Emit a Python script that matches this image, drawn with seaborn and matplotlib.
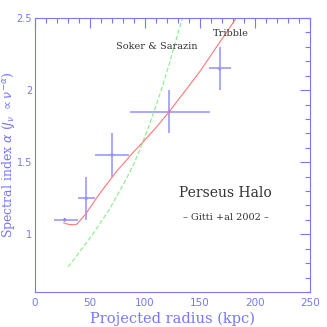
import numpy as np
import pandas as pd
import matplotlib
matplotlib.use('Agg')
import matplotlib.pyplot as plt
import seaborn as sns
from matplotlib.ticker import MultipleLocator

# measured spectral index points
radius = [27, 46.5, 70, 122, 168]
radius_lo = [17, 39, 54.5, 86, 158.5]
radius_hi = [39.5, 54.5, 85.5, 159, 178]
alpha = [1.10, 1.25, 1.55, 1.85, 2.15]
alpha_lo = [1.10, 1.10, 1.40, 1.70, 2.00]
alpha_hi = [1.10, 1.40, 1.70, 2.00, 2.30]

# model curves
soker_r = [30, 37, 44, 52, 59, 67, 74, 82, 90, 97, 104, 110, 116, 122, 128, 134]
soker_a = [0.775, 0.84, 0.915, 0.995, 1.075, 1.165, 1.26, 1.37, 1.49, 1.62, 1.76, 1.89, 2.03, 2.18, 2.34, 2.50]
tribble_r = [26, 30, 34, 38, 46, 59, 74, 90, 97, 110, 122, 136, 150, 166, 183]
tribble_a = [1.08, 1.07, 1.066, 1.07, 1.14, 1.285, 1.435, 1.575, 1.63, 1.74, 1.85, 1.99, 2.13, 2.31, 2.50]

blue = '#7777ff'
sns.set_theme(style='white')
plt.rcParams['font.family'] = ['DejaVu Serif']

fig, ax = plt.subplots(figsize=(3.27, 3.27), dpi=100)
fig.subplots_adjust(left=0.107, right=0.948, bottom=0.107, top=0.945)

pts = pd.DataFrame({'r': radius, 'a': alpha})
xerr = np.array([np.subtract(radius, radius_lo), np.subtract(radius_hi, radius)])
yerr = np.array([np.subtract(alpha, alpha_lo), np.subtract(alpha_hi, alpha)])
ax.errorbar(radius, alpha, xerr=xerr, yerr=yerr, fmt='none', ecolor='#9999ff',
            elinewidth=1.2, capsize=0)
sns.scatterplot(data=pts, x='r', y='a', ax=ax, color='#3333ff', s=5,
                edgecolor='none', legend=False)

sns.lineplot(x=soker_r, y=soker_a, ax=ax, color='#88ee88', lw=0.8,
             linestyle=(0, (4, 2)), sort=False)
sns.lineplot(x=tribble_r, y=tribble_a, ax=ax, color='#ff7777', lw=0.8, sort=False)

ax.set_xlim(0, 250)
ax.set_ylim(0.6, 2.5)
ax.xaxis.set_major_locator(MultipleLocator(50))
ax.xaxis.set_minor_locator(MultipleLocator(10))
ax.yaxis.set_minor_locator(MultipleLocator(0.1))
ax.set_yticks([1, 1.5, 2, 2.5])
ax.set_yticklabels(['1', '1.5', '2', '2.5'])
ax.tick_params(which='both', direction='in', top=True, right=True, color=blue,
               labelcolor=blue, labelsize=7.5)
ax.tick_params(axis='x', pad=4)
ax.tick_params(axis='y', pad=2, labelsize=7)
ax.tick_params(which='major', length=7, width=0.8)
ax.tick_params(which='minor', length=3.5, width=0.8)
for lbl in ax.get_xticklabels() + ax.get_yticklabels():
    lbl.set_family('DejaVu Sans')
for sp in ax.spines.values():
    sp.set_color(blue)
    sp.set_linewidth(0.8)

ax.set_xlabel('Projected radius (kpc)', color=blue, fontsize=10.5, labelpad=3)
ax.set_ylabel(r'Spectral index $\alpha$ ($J_\nu$ $\propto\nu^{-\alpha}$)',
              color=blue, fontsize=9, va='center')
ax.yaxis.set_label_coords(-0.098, 0.5)

ax.text(74, 2.305, 'Soker & Sarazin', fontsize=7, color='#333333', va='center')
ax.text(162, 2.39, 'Tribble', fontsize=7, color='#333333', va='center')
ax.text(173.5, 1.285, 'Perseus Halo', fontsize=10, color='#333333', ha='center', va='center')
ax.text(173.5, 1.118, '\u2013 Gitti +al 2002 \u2013', fontsize=7, color='#333333',
        ha='center', va='center')

plt.savefig('out.png', dpi=100)
